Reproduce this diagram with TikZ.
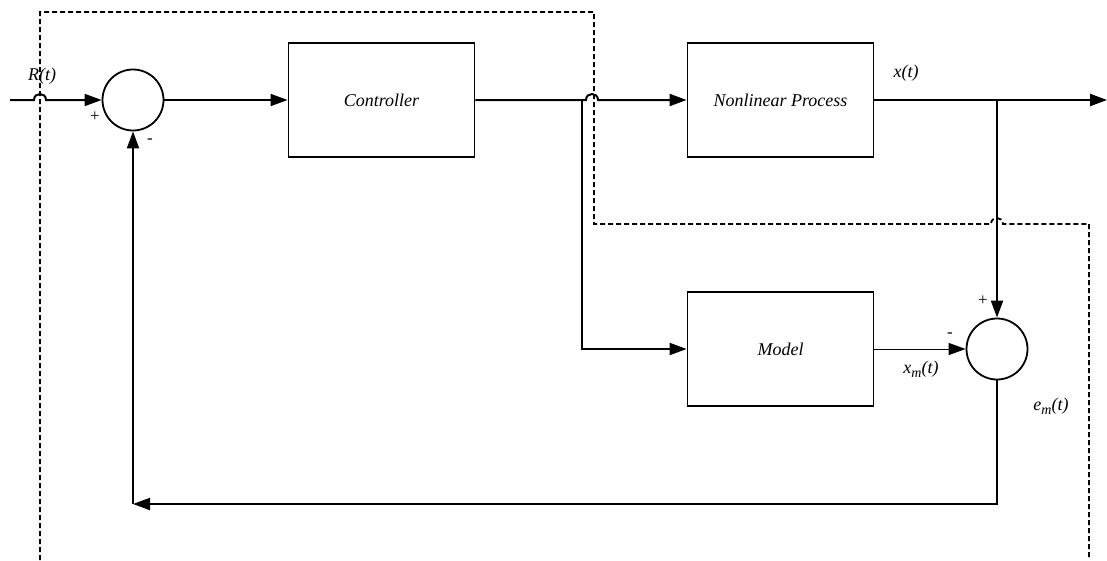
\documentclass[tikz,border=0pt]{standalone}
\usepackage{fontspec}
\setmainfont{Liberation Serif}
\usetikzlibrary{arrows.meta}
\newcommand{\subm}{\raisebox{-4pt}{\fontsize{14}{15}\selectfont m}}
\begin{document}
\begin{tikzpicture}[x=1pt,y=-1pt,
  box/.style={draw,line width=1.8pt,minimum width=186pt,minimum height=114pt,inner sep=0pt,font=\fontsize{18}{21}\selectfont\itshape},
  sum/.style={draw,circle,line width=1.8pt,minimum size=61pt,inner sep=0pt},
  wire/.style={line width=2pt},
  thin/.style={line width=1pt},
  tip/.style={-{Triangle[length=17pt,width=12pt]}},
  dsh/.style={line width=1.8pt,dash pattern=on 5pt off 3pt},
  lab/.style={font=\fontsize{18}{21}\selectfont\itshape,inner sep=0pt},
  sgn/.style={font=\fontsize{17}{19}\selectfont,inner sep=0pt}]
\useasboundingbox (0,0) rectangle (1107,560);
% nodes
\node[sum] (s1) at (133,100) {};
\node[box] (ctrl) at (381.5,100) {Controller};
\node[box] (np) at (780.5,100) {Nonlinear Process};
\node[box] (model) at (780.5,349) {Model};
\node[sum] (s2) at (997,349) {};
\coordinate (in) at (10,100);
\coordinate (out) at (1107,100);
\coordinate (br) at (582,100);
\coordinate (br2) at (997,100);
\coordinate (fb) at (133,504);
% labels
\node[lab] (lR) at (42,76) {R(t)};
\node[lab] (lx) at (906,73) {x(t)};
\node[lab] (lxm) at (921,369) {x\subm(t)};
\node[lab] (lem) at (1051,406) {e\subm(t)};
\node[sgn] (p1) at (95,117) {+};
\node[sgn] (m1) at (150,141) {-};
\node[sgn] (p2) at (983,301) {+};
\node[sgn] (m2) at (950,335) {-};
% solid connectors
\draw[wire,tip] (in) -- (34,100) .. controls (34,92) and (46,92) .. (46,100) -- (s1.west);
\draw[wire,tip] (s1.east) -- (ctrl.west);
\draw[wire,tip] (ctrl.east) -- (586,100) .. controls (586,92) and (598,92) .. (598,100) -- (np.west);
\draw[wire,tip] (br) |- (model.west);
\draw[wire,tip] (np.east) -- (out);
\draw[wire,tip] (br2) -- (s2.north);
\draw[thin,tip] (model.east) -- (s2.west);
\draw[wire,tip] (s2.south) |- (fb);
\draw[wire,tip] (fb) -- (s1.south);
% dashed loop
\draw[dsh] (40,560) -- (40,12) -- (594,12) -- (594,224) -- (991,224) .. controls (991,216) and (1003,216) .. (1003,224) -- (1089,224) -- (1089,560);
\end{tikzpicture}
\end{document}
